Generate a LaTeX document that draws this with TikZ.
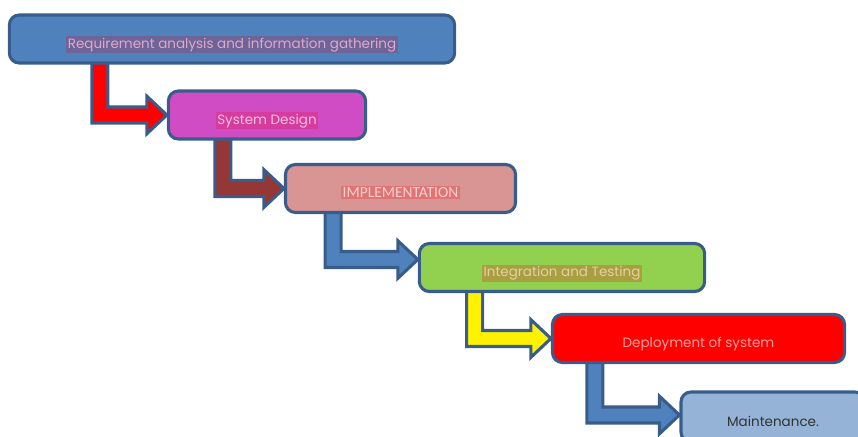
\documentclass[tikz,border=0pt]{standalone}
\usepackage{fontspec}
\setmainfont{Poppins}
\newfontfamily\capsfont{Carlito}
\usetikzlibrary{calc}
\pgfdeclarelayer{back}
\pgfsetlayers{back,main}
\definecolor{edge}{HTML}{385D8A}
\definecolor{reqfill}{HTML}{4F81BD}
\definecolor{reqhl}{HTML}{6E6497}
\definecolor{reqtxt}{HTML}{E0A8CC}
\definecolor{desfill}{HTML}{D04CC4}
\definecolor{deshl}{HTML}{D63C9E}
\definecolor{destxt}{HTML}{F6C0E0}
\definecolor{impfill}{HTML}{D99594}
\definecolor{imphl}{HTML}{E07474}
\definecolor{imptxt}{HTML}{F8D0D0}
\definecolor{intfill}{HTML}{92D050}
\definecolor{inthl}{HTML}{A8A040}
\definecolor{inttxt}{HTML}{ECCCA8}
\definecolor{depfill}{HTML}{FF0000}
\definecolor{deptxt}{HTML}{FFA0A0}
\definecolor{mntfill}{HTML}{95B3D7}
\definecolor{mnttxt}{HTML}{333333}
\definecolor{brown}{HTML}{953735}
\setlength{\fboxsep}{1pt}
\tikzset{
  phase/.style={draw=edge, line width=2.2pt, rounded corners=0.25cm, minimum height=1.2cm,
    text height=0.45cm, text depth=0cm, inner sep=0pt, font=\fontsize{9.6}{11}\selectfont},
  bent/.style={draw=edge, line width=2.2pt, line join=miter}
}
% #1 from node, #2 tip, #3 shaft offset, #4 colour
\newcommand{\bentarrow}[4]{%
\begin{pgfonlayer}{back}
\draw[bent, fill=#4] let \p1=([xshift=#3]#1.south west), \p2=(#2) in
  (\x1,\y1+0.1cm) -- (\x1+0.4cm,\y1+0.1cm) -- (\x1+0.4cm,\y2+0.2cm)
  -- (\x2-0.5cm,\y2+0.2cm) -- (\x2-0.5cm,\y2+0.47cm) -- (\x2,\y2)
  -- (\x2-0.5cm,\y2-0.47cm) -- (\x2-0.5cm,\y2-0.2cm) -- (\x1,\y2-0.2cm) -- cycle;
\end{pgfonlayer}}
\begin{document}
\begin{tikzpicture}[x=0.025cm,y=-0.025cm]
\clip (0,0) rectangle (858,436);
\node[phase, fill=reqfill, text=reqtxt, minimum width=11.13cm] (req) at (232,39)
  {\colorbox{reqhl}{Requirement analysis and information gathering}};
\node[phase, fill=desfill, text=destxt, minimum width=4.93cm] (design) at (267,115)
  {\colorbox{deshl}{System Design}};
\node[phase, fill=impfill, text=imptxt, minimum width=5.75cm, font=\capsfont\fontsize{11}{13}\selectfont] (impl) at (400.5,188.5)
  {\colorbox{imphl}{IMPLEMENTATION}};
\node[phase, fill=intfill, text=inttxt, minimum width=7.13cm] (integ) at (562,267.5)
  {\colorbox{inthl}{Integration and Testing}};
\node[phase, fill=depfill, text=deptxt, minimum width=7.3cm] (deploy) at (698.5,338.5)
  {Deployment of system};
\node[phase, fill=mntfill, text=mnttxt, minimum width=4.6cm, minimum height=1.25cm] (maint) at (773,417)
  {Maintenance.};
% connectors
\bentarrow{req}{design.west}{2.1cm}{red}
\bentarrow{design}{impl.west}{1.2cm}{brown}
\bentarrow{impl}{[yshift=0.2cm]integ.west}{1.03cm}{reqfill}
\bentarrow{integ}{deploy.west}{1.22cm}{yellow}
\bentarrow{deploy}{[yshift=0.05cm]maint.west}{0.9cm}{reqfill}
\end{tikzpicture}
\end{document}
